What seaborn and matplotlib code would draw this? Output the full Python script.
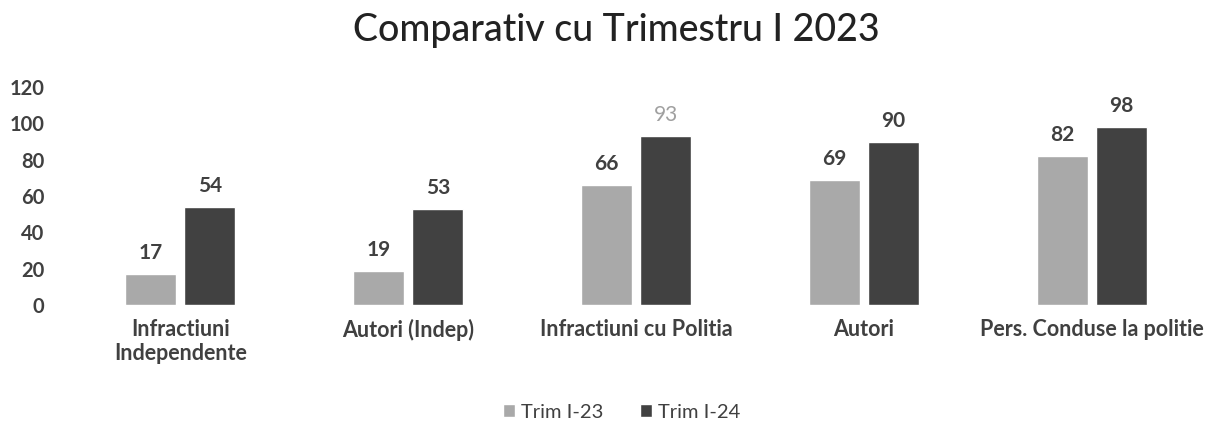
import matplotlib
matplotlib.use("Agg")
import matplotlib.pyplot as plt
import seaborn as sns
import pandas as pd

# data
categories = ["Infractiuni\nIndependente", "Autori (Indep)", "Infractiuni cu Politia",
              "Autori", "Pers. Conduse la politie"]
series_names = ["Trim I-23", "Trim I-24"]
trim_23 = [17, 19, 66, 69, 82]
trim_24 = [54, 53, 93, 90, 98]

df = pd.DataFrame({
    "categorie": categories * 2,
    "serie": [series_names[0]] * len(categories) + [series_names[1]] * len(categories),
    "valoare": trim_23 + trim_24,
})

sns.set_theme(style="white")
plt.rcParams['font.family'] = ['Lato', 'DejaVu Sans']
text_color = "#404040"
palette = {"Trim I-23": "#a9a9a9", "Trim I-24": "#414141"}

fig = plt.figure(figsize=(12.07, 4.25), dpi=100)
ax = fig.add_axes([0.055, 0.282, 0.944, 0.513])

sns.barplot(data=df, x="categorie", y="valoare", hue="serie", order=categories,
            hue_order=series_names, palette=palette, width=0.52, gap=0.14,
            saturation=1, ax=ax, legend=True)

# value labels above bars
for i, container in enumerate(ax.containers):
    labels = ax.bar_label(container, fmt="%d", padding=8, fontsize=15,
                          color=text_color, fontweight="bold")
    if i == 1:
        labels[2].set_color("#a0a0a0")
        labels[2].set_fontweight("normal")

ax.set_ylim(0, 120)
ax.set_yticks(range(0, 121, 20))
ax.set_xlim(-0.5, len(categories) - 0.5)
ax.set_xlabel("")
ax.set_ylabel("")
ax.tick_params(axis="both", length=0, labelcolor=text_color)
ax.tick_params(axis="y", pad=16, labelsize=14.5)
ax.tick_params(axis="x", pad=10, labelsize=15.5)
for lbl in ax.get_xticklabels() + ax.get_yticklabels():
    lbl.set_fontweight("bold")
sns.despine(ax=ax, left=True, bottom=True)
ax.grid(False)

fig.suptitle("Comparativ cu Trimestru I 2023", fontsize=27, color="#222222",
             x=0.511, y=0.97, fontweight="medium")

ax.legend_.remove()
handles, labs = ax.get_legend_handles_labels()
fig.legend(handles, labs, loc="center", bbox_to_anchor=(0.515, 0.03), ncol=2,
           frameon=False, fontsize=14.5, handlelength=0.6, handleheight=0.6,
           handletextpad=0.3, columnspacing=1.8, labelcolor=text_color)

fig.savefig("out.png", dpi=100)
